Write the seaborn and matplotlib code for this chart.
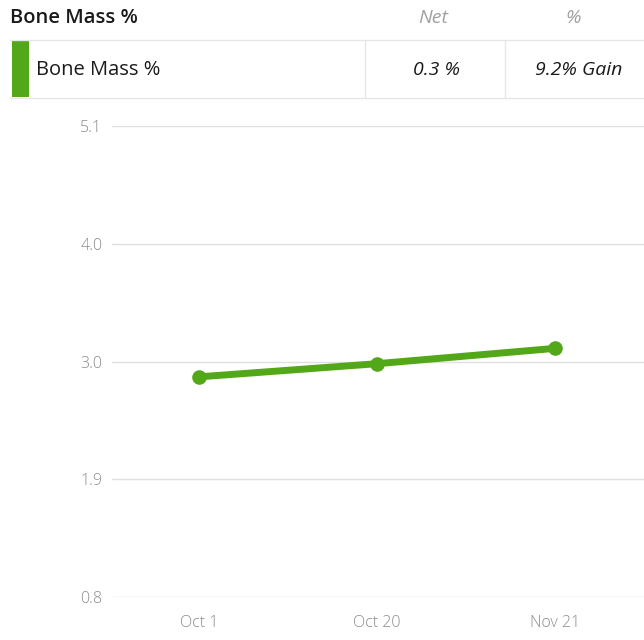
import numpy as np
import matplotlib.pyplot as plt
import seaborn as sns
from matplotlib.patches import Rectangle
from matplotlib.lines import Line2D

# chart data
dates = ['Oct 1', 'Oct 20', 'Nov 21']
bone_mass = [2.81, 2.93, 3.07]
y_ticks = [0.8, 1.875, 2.95, 4.025, 5.1]
y_labels = ['0.8', '1.9', '3.0', '4.0', '5.1']

# header table
title = 'Bone Mass %'
col_heads = ['Net', '%']
row_name = 'Bone Mass %'
row_values = ['0.3 %', '9.2% Gain']

green = '#52a818'
W, H = 644, 640

sns.set_theme(style='white')
plt.rcParams['font.family'] = ['Open Sans', 'DejaVu Sans']

fig = plt.figure(figsize=(W / 100, H / 100), dpi=100)

def fx(px):
    return px / W

def fy(py):
    return 1 - py / H

# header text
fig.text(fx(10), fy(18), title, fontsize=14.5, fontweight='semibold', color='#1a1a1a', va='center', ha='left')
fig.text(fx(433), fy(18), col_heads[0], fontsize=14, style='italic', color='#a0a0a0', va='center', ha='center')
fig.text(fx(573), fy(18), col_heads[1], fontsize=14, style='italic', color='#a0a0a0', va='center', ha='center')

# table row
for yy in (40, 98):
    fig.add_artist(Line2D([fx(10), 1], [fy(yy), fy(yy)], color='#e6e6e6', lw=1))
for xx in (365, 505):
    fig.add_artist(Line2D([fx(xx), fx(xx)], [fy(40), fy(98)], color='#e6e6e6', lw=1))
fig.add_artist(Rectangle((fx(12), fy(97)), fx(17), (97 - 41) / H, color=green, lw=0))
fig.text(fx(36), fy(70), row_name, fontsize=14.5, color='#1a1a1a', va='center', ha='left')
fig.text(fx(460), fy(70), row_values[0], fontsize=14, style='italic', color='#1a1a1a', va='center', ha='right')
fig.text(fx(622), fy(70), row_values[1], fontsize=14, style='italic', color='#1a1a1a', va='center', ha='right')

# line chart
ax = fig.add_axes([fx(112), fy(597), 1 - fx(112), (597 - 126) / H])
sns.lineplot(x=dates, y=bone_mass, sort=False, ax=ax, color=green, lw=5,
             marker='o', markersize=10.5, markeredgewidth=0, zorder=3)
ax.set_xlim(-0.49, 2.5)
ax.set_ylim(y_ticks[0], y_ticks[-1])
ax.set_yticks(y_ticks)
ax.set_yticklabels(y_labels)
ax.yaxis.grid(True, color='#e0e0e0', lw=1)
ax.xaxis.grid(False)
for s in ax.spines.values():
    s.set_visible(False)
ax.tick_params(axis='both', length=0, labelsize=11.5, labelcolor='#8c8c8c')
ax.tick_params(axis='y', pad=7)
ax.tick_params(axis='x', pad=13)
for lab in ax.get_xticklabels() + ax.get_yticklabels():
    lab.set_fontweight('light')
ax.set_xlabel('')
ax.set_ylabel('')
for ln in ax.lines:
    ln.set_clip_on(False)

fig.savefig('out.png', dpi=100)
